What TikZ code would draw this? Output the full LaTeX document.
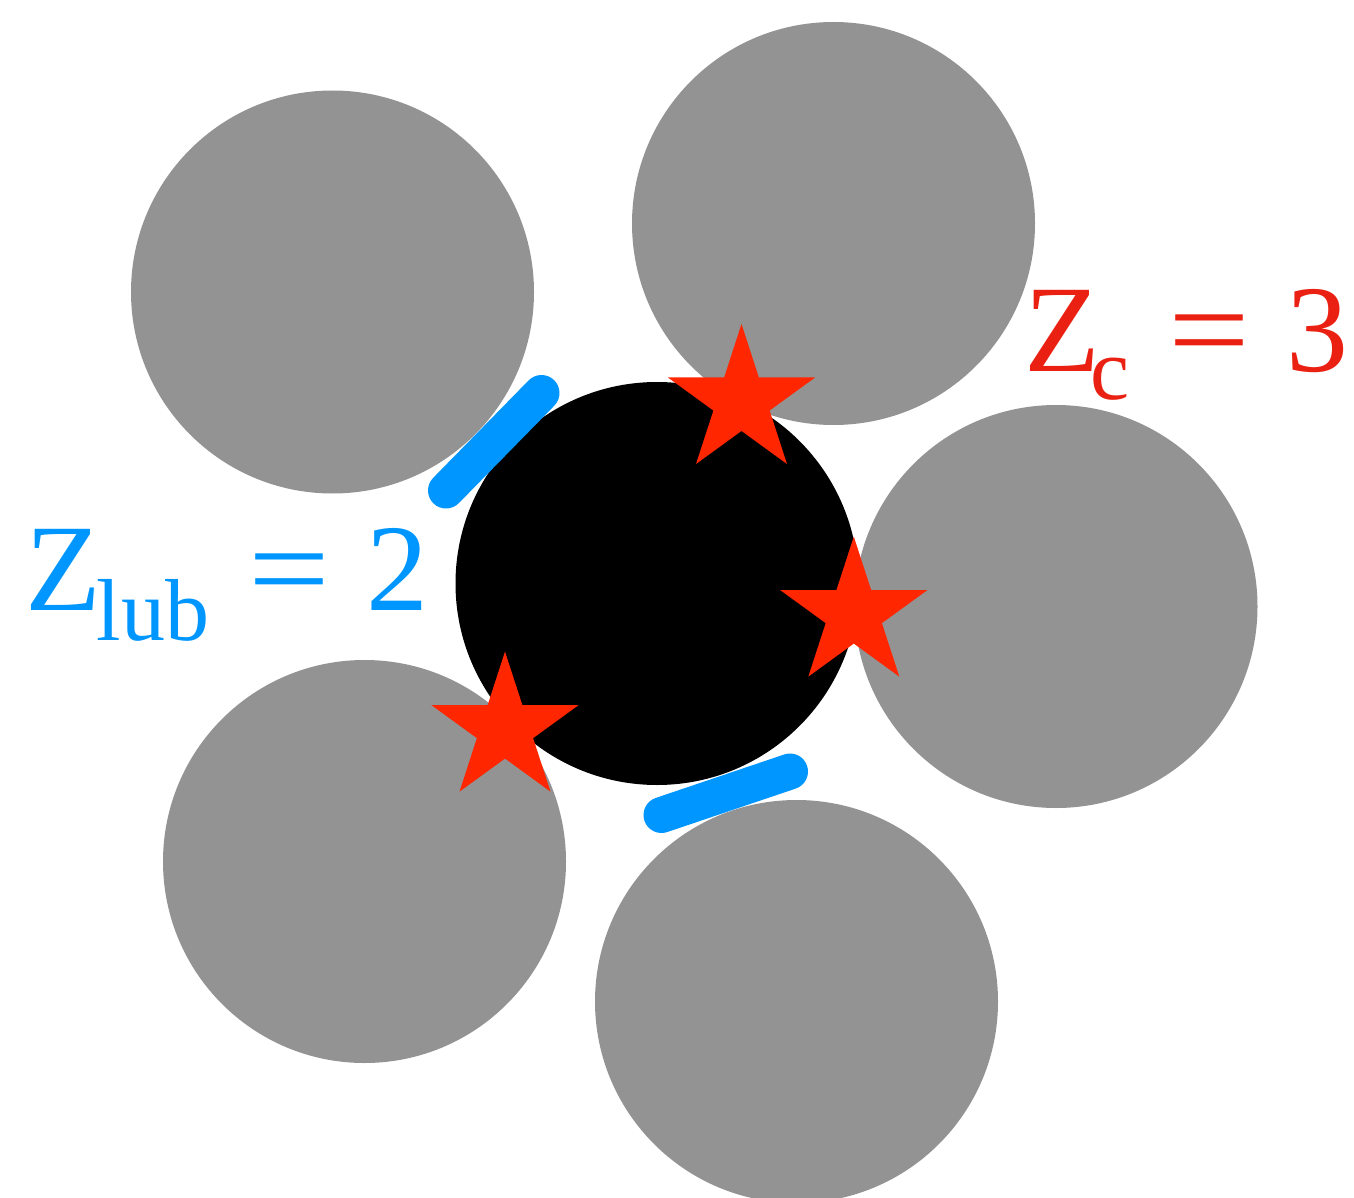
\documentclass[tikz,border=0pt]{standalone}
\usepackage{fontspec}
\setmainfont{Liberation Serif}
\usepackage{graphicx}
\usetikzlibrary{shapes.geometric}
\definecolor{ballgray}{RGB}{147,147,147}
\definecolor{starred}{RGB}{255,38,0}
\definecolor{textred}{RGB}{234,33,18}
\definecolor{lubblue}{RGB}{0,150,255}
\tikzset{
  ball/.style={circle, fill=ballgray, draw=none, inner sep=0pt, outer sep=0pt, minimum size=403pt},
  centreball/.style={ball, fill=black},
  contactstar/.style={star, star points=5, star point ratio=2.618, fill=starred, draw=none, inner sep=0pt, outer sep=0pt, minimum size=154.8pt},
  lubbond/.style={draw=lubblue, line width=36pt, line cap=round},
  label/.style={anchor=base west, inner sep=0pt, outer sep=0pt}
}
\begin{document}
\begin{tikzpicture}[x=1pt, y=-1pt]
\useasboundingbox (0,0) rectangle (1354,1198);
\begin{scope}
\clip (0,0) rectangle (1354,1198);
\node[ball] (tl) at (332.5,292) {};
\node[ball] (tr) at (833.5,223.5) {};
\node[ball] (r) at (1056,606.5) {};
\node[ball] (bl) at (364.5,861.5) {};
\node[ball] (b) at (796.5,1001.5) {};
\node[centreball] (c) at (657,583.5) {};

\node[contactstar] (s1) at (741.5,401.4) {};
\node[contactstar] (s2) at (853.8,614) {};
\node[contactstar] (s3) at (505,729) {};

\coordinate (l1a) at (446,490.5);
\coordinate (l1b) at (541.5,393);
\coordinate (l2a) at (661.5,815);
\coordinate (l2b) at (790,771.5);
\draw[lubbond] (l1a) -- (l1b);
\draw[lubbond] (l2a) -- (l2b);
\end{scope}

\node[label, text=textred] (zc) at (1024,371.7)
  {\fontsize{124}{124}\selectfont Z\kern-9pt\raisebox{-28pt}{\fontsize{88}{88}\selectfont c}\kern38.5pt\scalebox{1.17}[1]{=}\kern36pt 3};
\node[label, text=lubblue] (zlub) at (25,610)
  {\fontsize{124}{124}\selectfont Z\kern-4pt\raisebox{-30.5pt}{\fontsize{88}{88}\selectfont lub}\kern39pt\scalebox{1.17}[1]{=}\kern36pt 2};
\end{tikzpicture}
\end{document}
